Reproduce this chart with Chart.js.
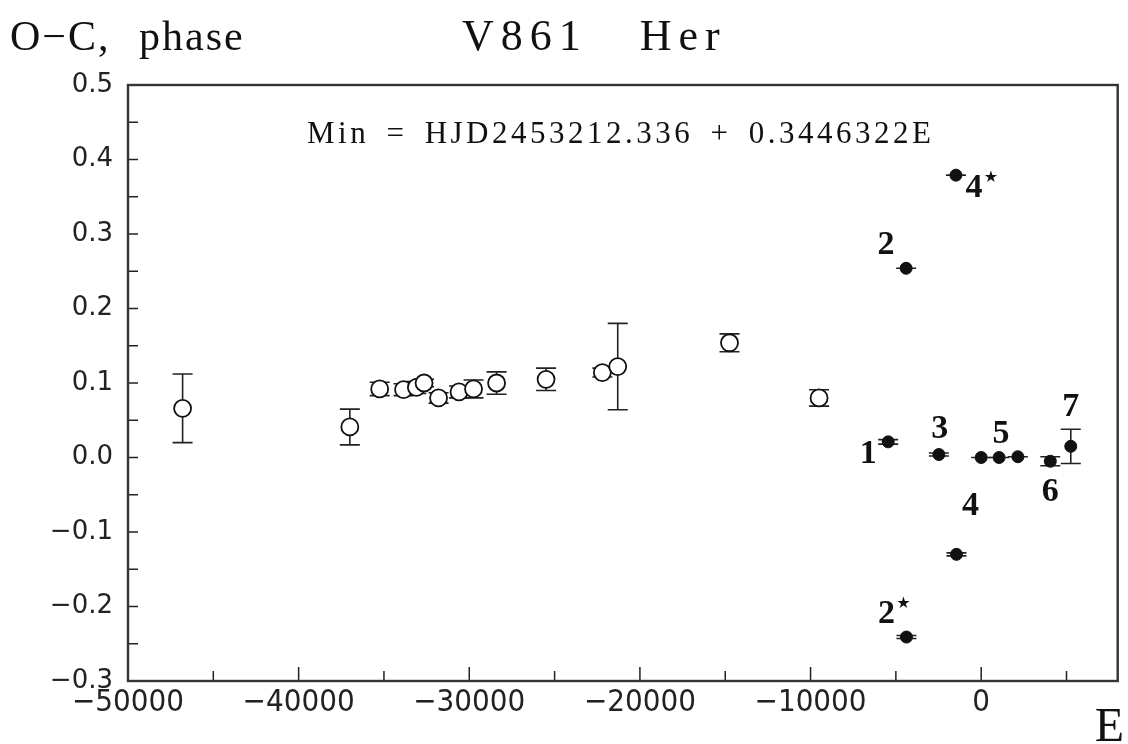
<!DOCTYPE html>
<html>
<head>
<meta charset="utf-8">
<title>V861 Her O-C</title>
<script src="https://cdn.jsdelivr.net/npm/chart.js@4.4.0/dist/chart.umd.min.js"></script>
<style>
  html, body { margin: 0; padding: 0; background: #fff; }
  #wrap { width: 1128px; height: 744px; }
</style>
</head>
<body>
<div id="wrap"><canvas id="oc" width="1128" height="744"></canvas></div>
<script>
// open circles: older minima
const openE   = [-46800, -37000, -35250, -33850, -33100, -32650, -31800, -30600, -29750, -28400, -25500, -22200, -21300, -14750, -9500];
const openOC  = [0.066, 0.041, 0.092, 0.091, 0.094, 0.100, 0.080, 0.088, 0.092, 0.100, 0.105, 0.114, 0.122, 0.154, 0.080];
const openErr = [0.046, 0.024, 0.009, 0.008, 0.008, 0.005, 0.007, 0.008, 0.012, 0.015, 0.015, 0.006, 0.058, 0.012, 0.011];

// filled circles: new minima, numbered
const filledE     = [-5450, -4400, -4380, -2480, -1480, -1450, 0, 1050, 2150, 4050, 5250];
const filledOC    = [0.021, 0.254, -0.241, 0.004, 0.379, -0.130, 0.000, 0.000, 0.001, -0.005, 0.015];
const filledErr   = [0.003, 0.000, 0.002, 0.002, 0.000, 0.002, 0.000, 0.000, 0.000, 0.006, 0.023];
const filledLabel = ['1', '2', '2', '3', '4', '4', '', '5', '', '6', '7'];
const filledStar  = [false, false, true, false, true, false, false, false, false, false, false];
// label offset from its point, in px
const labelDX = [-20, -20, -20, 1, 18, 14, 0, 2, 0, 0, 0];
const labelDY = [12, -23, -23, -25, 13, -48, 0, -23, 0, 31, -39];

// tick positions (minor every 5000 / 0.05, labels on the major ones)
const xTickValues = [-50000, -45000, -40000, -35000, -30000, -25000, -20000, -15000, -10000, -5000, 0, 5000];
const xTicksMajor = 10000;
const yTicksMajor = 0.1;

const fmt = (v, d) => {
  const s = Math.abs(v) < 1e-9 ? (0).toFixed(d) : v.toFixed(d);
  return s.replace('-', '\u2212');
};
const isMajor = (v, step) => Math.abs(v / step - Math.round(v / step)) < 1e-6;

function drawErr(ctx, x, y, E, oc, err) {
  const px = x.getPixelForValue(E);
  const top = y.getPixelForValue(oc + err);
  const bot = y.getPixelForValue(oc - err);
  ctx.beginPath();
  ctx.moveTo(px, top); ctx.lineTo(px, bot);
  ctx.moveTo(px - 10, top); ctx.lineTo(px + 10, top);
  ctx.moveTo(px - 10, bot); ctx.lineTo(px + 10, bot);
  ctx.stroke();
}

const frame = {
  id: 'frame',
  beforeDatasetsDraw(chart) {
    const {ctx, chartArea: a, scales: {x, y}} = chart;
    ctx.save();
    ctx.strokeStyle = '#222';
    ctx.lineWidth = 1.6;
    openE.forEach((e, i) => drawErr(ctx, x, y, e, openOC[i], openErr[i]));
    filledE.forEach((e, i) => drawErr(ctx, x, y, e, filledOC[i], filledErr[i]));

    // inner ticks
    ctx.lineWidth = 1.5;
    ctx.beginPath();
    x.ticks.forEach(t => {
      const px = x.getPixelForValue(t.value);
      const len = isMajor(t.value, xTicksMajor) ? 14 : 10;
      ctx.moveTo(px, a.bottom); ctx.lineTo(px, a.bottom - len);
    });
    y.ticks.forEach(t => {
      const py = y.getPixelForValue(t.value);
      ctx.moveTo(a.left, py); ctx.lineTo(a.left + 10, py);
    });
    ctx.stroke();

    // frame
    ctx.lineWidth = 2.4;
    ctx.strokeStyle = '#333';
    ctx.strokeRect(a.left, a.top, a.right - a.left, a.bottom - a.top);
    ctx.restore();
  },
  afterDraw(chart) {
    const {ctx, scales: {x, y}} = chart;
    ctx.save();
    ctx.fillStyle = '#111';
    ctx.textBaseline = 'alphabetic';

    ctx.textAlign = 'left';
    ctx.font = '42px "Liberation Serif", serif';
    ctx.letterSpacing = '2px';
    ctx.wordSpacing = '16px';
    ctx.fillText('O\u2212C, phase', 10, 50);

    ctx.font = '44px "Liberation Serif", serif';
    ctx.letterSpacing = '7px';
    ctx.wordSpacing = '34px';
    ctx.fillText('V861 Her', 462, 50);

    ctx.font = '31px "Liberation Serif", serif';
    ctx.letterSpacing = '3.5px';
    ctx.wordSpacing = '6px';
    ctx.fillText('Min = HJD2453212.336 + 0.3446322E', 307, 143);

    ctx.letterSpacing = '0px';
    ctx.wordSpacing = '0px';
    ctx.textAlign = 'right';
    ctx.font = '48px "Liberation Serif", serif';
    ctx.fillText('E', 1124, 741);

    // point numbers
    ctx.textAlign = 'center';
    ctx.textBaseline = 'middle';
    filledE.forEach((e, i) => {
      if (!filledLabel[i]) return;
      const px = x.getPixelForValue(e) + labelDX[i];
      const py = y.getPixelForValue(filledOC[i]) + labelDY[i];
      ctx.font = 'bold 34px "Liberation Serif", serif';
      ctx.fillText(filledLabel[i], px, py);
      if (filledStar[i]) {
        ctx.font = '16px "DejaVu Sans", sans-serif';
        ctx.fillText('\u2605', px + 17, py - 10);
      }
    });
    ctx.restore();
  }
};

new Chart(document.getElementById('oc'), {
  type: 'scatter',
  data: {
    datasets: [
      {
        label: 'old minima',
        data: openE.map((e, i) => ({x: e, y: openOC[i]})),
        pointRadius: 8.5,
        pointBorderWidth: 1.8,
        pointBackgroundColor: '#fff',
        pointBorderColor: '#111'
      },
      {
        label: 'new minima',
        data: filledE.map((e, i) => ({x: e, y: filledOC[i]})),
        pointRadius: 6,
        pointBorderWidth: 1,
        pointBackgroundColor: '#111',
        pointBorderColor: '#111'
      }
    ]
  },
  options: {
    responsive: false,
    devicePixelRatio: 1,
    animation: false,
    layout: { padding: { top: 85, right: 2, left: 0, bottom: 0 } },
    plugins: { legend: { display: false }, tooltip: { enabled: false } },
    scales: {
      x: {
        type: 'linear',
        min: -50000,
        max: 8000,
        grid: { display: false, drawTicks: false },
        border: { display: false },
        afterFit: s => { s.height = 63; },
        afterBuildTicks: s => { s.ticks = xTickValues.map(v => ({value: v})); },
        ticks: {
          autoSkip: false,
          maxRotation: 0,
          padding: 3,
          color: '#222',
          font: { family: '"DejaVu Sans Condensed", "Liberation Sans Narrow", "Liberation Sans", sans-serif', size: 31 },
          callback: v => isMajor(v, xTicksMajor) ? fmt(v, 0) : ''
        }
      },
      y: {
        min: -0.3,
        max: 0.5,
        grid: { display: false, drawTicks: false },
        border: { display: false },
        afterFit: s => { s.width = 128; },
        ticks: {
          stepSize: 0.05,
          autoSkip: false,
          padding: 15,
          color: '#222',
          font: { family: '"DejaVu Sans", sans-serif', size: 26 },
          callback: v => isMajor(v, yTicksMajor) ? fmt(v, 1) : ''
        }
      }
    }
  },
  plugins: [frame]
});
</script>
</body>
</html>
